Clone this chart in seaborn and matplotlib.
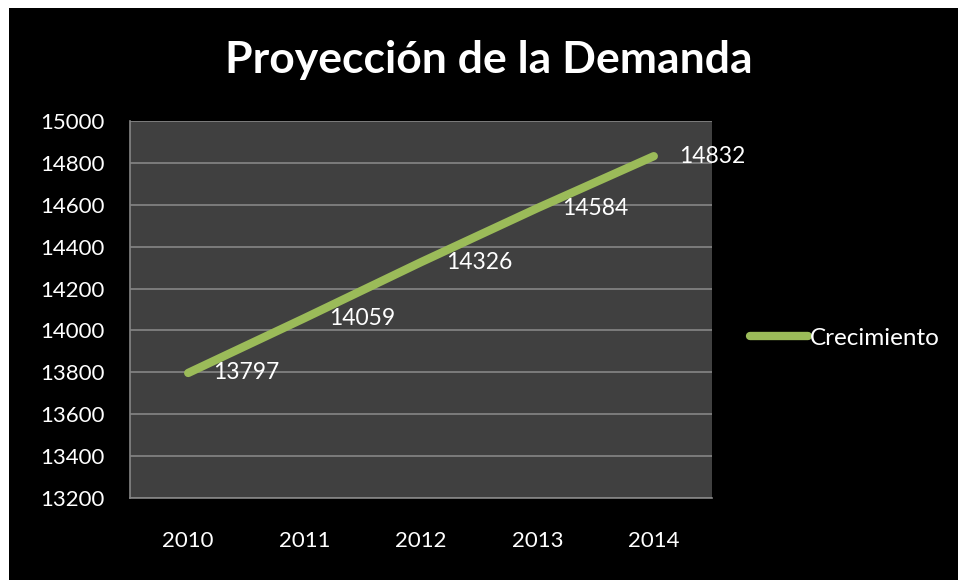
import pandas as pd
import seaborn as sns
import matplotlib.pyplot as plt
from matplotlib.patches import Rectangle

years = ['2010', '2011', '2012', '2013', '2014']
demand = [13797, 14059, 14326, 14584, 14832]
series_name = 'Crecimiento'
title = 'Proyección de la Demanda'
y_ticks = [13200, 13400, 13600, 13800, 14000, 14200, 14400, 14600, 14800, 15000]

df = pd.DataFrame({'year': years, 'value': demand, 'serie': series_name})

sns.set_theme(style='dark')
plt.rcParams['font.family'] = ['Lato', 'DejaVu Sans']

fig = plt.figure(figsize=(9.58, 5.8), dpi=100, facecolor='white')
# black chart area, leaving the thin white border at top/left
fig.patches.append(Rectangle((9 / 958, 0), 1, (580 - 8) / 580, transform=fig.transFigure,
                             facecolor='black', edgecolor='none', zorder=-1))

ax = fig.add_axes([130 / 958, 82 / 580, 582 / 958, 377 / 580])
ax.set_facecolor('#404040')

sns.lineplot(data=df, x='year', y='value', hue='serie', palette=['#9bbb59'],
             linewidth=6, solid_capstyle='round', ax=ax, legend=True)

for i, v in enumerate(demand):
    ax.annotate(str(v), (i, v), xytext=(18, 0), textcoords='offset points',
                va='center', ha='left', color='white', fontsize=16.5)

ax.set_xlim(-0.5, len(years) - 0.5)
ax.set_ylim(13200, 15000)
ax.set_yticks(y_ticks)
ax.set_xlabel('')
ax.set_ylabel('')
ax.grid(axis='y', color='#868686', linewidth=1.2)
ax.grid(axis='x', visible=False)
ax.set_axisbelow(True)
ax.tick_params(axis='y', length=0, pad=18, labelsize=16, colors='white')
ax.tick_params(axis='x', length=0, pad=24, labelsize=16, colors='white')
for side in ['top', 'right']:
    ax.spines[side].set_visible(False)
for side in ['left', 'bottom']:
    ax.spines[side].set_visible(True)
    ax.spines[side].set_color('#868686')
    ax.spines[side].set_linewidth(1.2)

leg = ax.legend(loc='center left', bbox_to_anchor=(750 / 958, 242 / 580),
                bbox_transform=fig.transFigure, frameon=False, fontsize=17.5,
                handlelength=2.4, handletextpad=0.05, borderpad=0, borderaxespad=0)
for t in leg.get_texts():
    t.set_color('white')
for h in leg.get_lines():
    h.set_linewidth(6)
    h.set_solid_capstyle('round')

fig.text(489 / 958, 1 - 60 / 580, title, ha='center', va='center',
         color='white', fontsize=32, fontweight='bold')

fig.savefig('out.png', dpi=100, facecolor=fig.get_facecolor())
